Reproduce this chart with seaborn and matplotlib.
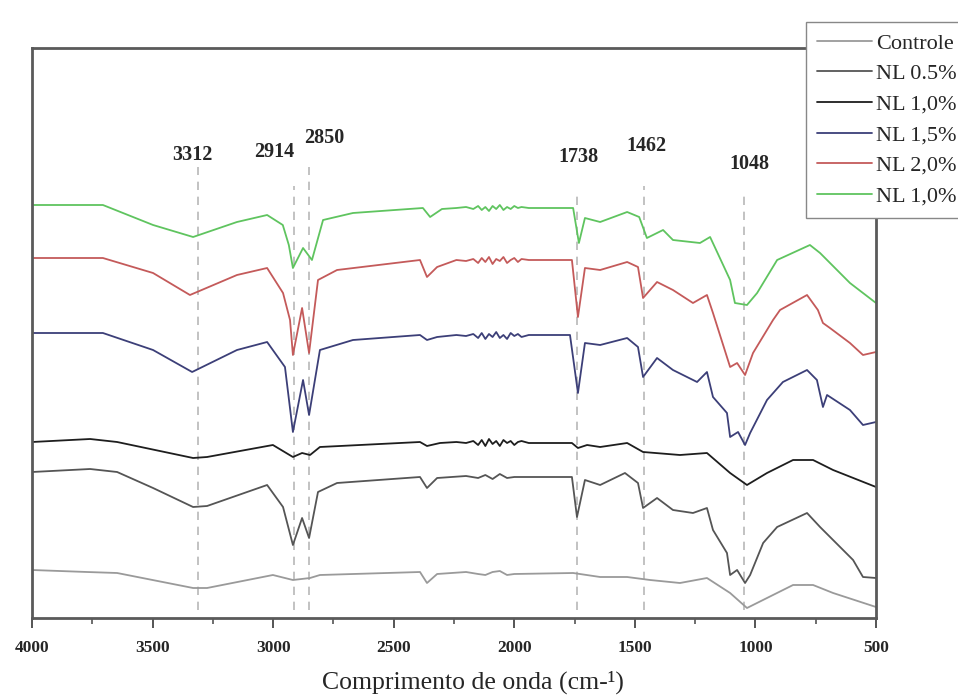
import numpy as np
import pandas as pd
import matplotlib
matplotlib.use("Agg")
import matplotlib.pyplot as plt
import seaborn as sns

# espectros FTIR (transmitancia em unidades arbitrarias, com deslocamento)
wn_controle = [4000, 3772, 3647, 3332, 3274, 3001, 2918, 2847, 2806, 2391, 2362, 2320, 2200, 2150,
               2120, 2090, 2060, 2030, 2000, 1756, 1644, 1532, 1437, 1313, 1201, 1105, 1035, 952,
               844, 761, 678, 500]
t_controle = [48, 46, 45, 30, 30, 43, 38, 40, 43, 46, 35, 44, 46, 44,
              43, 46, 47, 43, 44, 45, 41, 41, 38, 35, 40, 25, 10, 20,
              33, 33, 25, 11]

wn_nl05 = [4000, 3759, 3647, 3498, 3332, 3274, 3025, 2959, 2918, 2880, 2851, 2814, 2735, 2391, 2362,
           2320, 2200, 2150, 2120, 2090, 2060, 2030, 2000, 1761, 1740, 1707, 1644, 1541, 1487, 1466,
           1408, 1342, 1259, 1201, 1176, 1118, 1105, 1076, 1043, 1022, 968, 910, 786, 732, 678,
           595, 554, 500]
t_nl05 = [146, 149, 146, 130, 111, 112, 133, 111, 73, 100, 80, 126, 135, 141, 130,
          140, 142, 140, 143, 139, 144, 140, 141, 141, 101, 138, 133, 145, 135, 110,
          120, 108, 105, 110, 88, 65, 43, 48, 35, 43, 75, 91, 105, 91, 78,
          58, 41, 40]

wn_nl10 = [4000, 3759, 3647, 3332, 3274, 3001, 2918, 2880, 2847, 2806,
           2391, 2362, 2308, 2240, 2200, 2170, 2150, 2135, 2120, 2105,
           2090, 2075, 2060, 2045, 2030, 2015, 2000, 1985, 1970, 1940,
           1900, 1761, 1736, 1698, 1644, 1532, 1466, 1313, 1201, 1105,
           1035, 952, 844, 761, 678, 500]
t_nl10 = [176, 179, 176, 160, 161, 173, 161, 165, 163, 171,
          176, 172, 175, 176, 175, 177, 173, 178, 172, 179,
          174, 177, 172, 178, 175, 177, 173, 176, 177, 175,
          175, 175, 170, 173, 171, 175, 166, 163, 165, 145,
          133, 145, 158, 158, 148, 131]

wn_nl15 = [4000, 3706, 3498, 3336, 3150, 3025, 2951, 2918, 2876, 2851,
           2806, 2669, 2391, 2362, 2320, 2240, 2200, 2170, 2150, 2135,
           2120, 2105, 2090, 2075, 2060, 2045, 2030, 2015, 2000, 1985,
           1970, 1940, 1900, 1769, 1736, 1707, 1644, 1532, 1487, 1466,
           1408, 1342, 1242, 1201, 1176, 1118, 1105, 1072, 1043, 1022,
           952, 886, 786, 745, 720, 703, 608, 554, 500]
t_nl15 = [285, 285, 268, 246, 268, 276, 251, 186, 238, 203,
          268, 278, 283, 278, 281, 283, 282, 284, 280, 285,
          279, 284, 281, 286, 280, 283, 279, 285, 282, 284,
          281, 283, 283, 283, 225, 275, 273, 280, 271, 241,
          260, 248, 236, 246, 221, 205, 181, 186, 173, 185,
          218, 236, 248, 238, 211, 223, 208, 193, 196]

wn_nl20 = [4000, 3706, 3498, 3345, 3150, 3025, 2959, 2930, 2918, 2880,
           2851, 2814, 2735, 2391, 2362, 2320, 2240, 2200, 2170, 2150,
           2135, 2120, 2105, 2090, 2075, 2060, 2045, 2030, 2015, 2000,
           1985, 1970, 1940, 1900, 1761, 1736, 1707, 1644, 1532, 1487,
           1466, 1408, 1342, 1259, 1201, 1176, 1105, 1076, 1043, 1010,
           927, 898, 786, 741, 720, 691, 608, 554, 500]
t_nl20 = [360, 360, 345, 323, 343, 350, 325, 298, 263, 310,
          265, 338, 348, 358, 341, 351, 358, 357, 359, 355,
          360, 356, 361, 354, 359, 357, 361, 355, 358, 360,
          356, 359, 358, 358, 358, 301, 350, 348, 356, 351,
          320, 336, 328, 315, 323, 305, 251, 255, 243, 265,
          298, 308, 323, 308, 295, 290, 275, 263, 266]

wn_nl10b = [4000, 3706, 3498, 3332, 3150, 3025, 2960, 2935, 2918, 2876,
            2839, 2793, 2669, 2379, 2349, 2300, 2240, 2200, 2170, 2150,
            2135, 2120, 2105, 2090, 2075, 2060, 2045, 2030, 2015, 2000,
            1985, 1970, 1940, 1900, 1756, 1732, 1707, 1644, 1532, 1482,
            1450, 1383, 1342, 1230, 1188, 1159, 1105, 1085, 1035, 993,
            910, 774, 732, 608, 500]
t_nl10b = [413, 413, 393, 381, 396, 403, 393, 373, 350, 370,
           358, 398, 405, 410, 401, 409, 410, 411, 409, 412,
           408, 411, 407, 412, 409, 413, 408, 411, 409, 412,
           410, 411, 410, 410, 410, 375, 400, 396, 406, 401,
           380, 388, 378, 375, 381, 366, 338, 315, 313, 325,
           358, 373, 365, 335, 315]

amostras = ["controle", "nl05", "nl10", "nl15", "nl20", "nl10b"]
rotulos = ["Controle", "NL 0.5%", "NL 1,0%", "NL 1,5%", "NL 2,0%", "NL 1,0%"]
cores = ["#9a9a9a", "#555555", "#1e1e1e", "#3c3f78", "#c45a5a", "#5fc45f"]

picos = [3312, 2914, 2850, 1738, 1462, 1048]
picos_topo = [451, 432, 451, 428, 432, 424]
rotulo_pos = [(3337, 463), (2996, 466), (2789, 480), (1736, 461), (1450, 472), (1027, 454)]

series = [(wn_controle, t_controle), (wn_nl05, t_nl05), (wn_nl10, t_nl10),
          (wn_nl15, t_nl15), (wn_nl20, t_nl20), (wn_nl10b, t_nl10b)]
df = pd.concat([pd.DataFrame({"wn": w, "t": t, "amostra": a})
                for (w, t), a in zip(series, amostras)], ignore_index=True)

sns.set_style("white")
plt.rcParams['font.family'] = ['Liberation Serif', 'DejaVu Serif']

fig = plt.figure(figsize=(9.58, 6.96), dpi=100)
ax = fig.add_axes([32 / 958, 78 / 696, 844 / 958, 570 / 696])

for p, top in zip(picos, picos_topo):
    ax.plot([p, p], [8, top], color="#b8b8b8", linestyle=(0, (5, 4)), linewidth=1.2, zorder=1)

sns.lineplot(data=df, x="wn", y="t", hue="amostra", hue_order=amostras,
             palette=dict(zip(amostras, cores)), estimator=None, sort=False,
             linewidth=1.3, ax=ax, legend=False, zorder=2)

for p, (x, y) in zip(picos, rotulo_pos):
    ax.text(x, y, str(p), ha="center", va="center", fontsize=14.5, fontweight="bold")

ax.set_xlim(4000, 500)
ax.set_ylim(0, 570)
ax.set_yticks([])
ax.set_xticks(np.arange(4000, 499, -500))
ax.set_xticks(np.arange(3750, 500, -500), minor=True)
ax.tick_params(axis="x", which="major", direction="out", length=7, width=1.4,
               color="#555555", labelsize=12.5, pad=9, bottom=True)
ax.tick_params(axis="x", which="minor", direction="out", length=4, width=1.2,
               color="#555555", bottom=True)
for lab in ax.get_xticklabels():
    lab.set_fontweight("bold")
for s in ax.spines.values():
    s.set_color("#5a5a5a")
    s.set_linewidth(2)
ax.set_xlabel("Comprimento de onda (cm-¹)", fontsize=18.5)
ax.xaxis.set_label_coords(0.5225, -0.093)
ax.set_ylabel("")

handles = [plt.Line2D([], [], color=c, linewidth=1.3) for c in cores]
leg = fig.legend(handles, rotulos, loc="upper left", bbox_to_anchor=(806 / 958, 1 - 22 / 696),
                 bbox_transform=fig.transFigure, fontsize=16, handlelength=2.45,
                 handletextpad=0.2, labelspacing=0.45, borderpad=0.5, borderaxespad=0,
                 frameon=True, framealpha=1, fancybox=False, edgecolor="#888888")
leg.get_frame().set_linewidth(1.0)

fig.savefig("out.png", dpi=100)
